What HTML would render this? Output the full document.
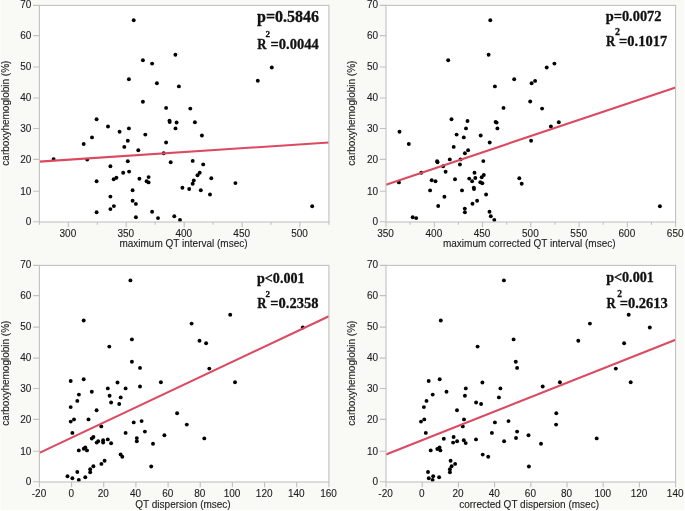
<!DOCTYPE html>
<html><head><meta charset="utf-8"><title>Scatter plots</title>
<style>
html,body{margin:0;padding:0;background:#f9f9f5;}
svg{display:block;will-change:transform;}
.s{font-family:"Liberation Sans",sans-serif;font-size:10px;fill:#1c1c1c;stroke:#1c1c1c;stroke-width:0.1px;}
.b{font-family:"Liberation Serif",serif;font-weight:bold;font-size:16px;fill:#111;stroke:#111;stroke-width:0.3px;}
.b2{font-family:"Liberation Serif",serif;font-weight:bold;font-size:10px;fill:#111;}
.f{stroke:#c1c1c1;stroke-width:1.1;fill:none;}
.d{fill:#000;}
.r{stroke:#db4a61;stroke-width:2.1;fill:none;}
</style></head><body>
<svg width="685" height="511" viewBox="0 0 685 511">
<rect x="0" y="0" width="685" height="511" fill="#f9f9f5"/>
<rect x="0" y="0" width="0.7" height="511" fill="#ffffff"/><rect x="684" y="0" width="1" height="511" fill="#ffffff"/><rect x="0" y="509.8" width="685" height="1.2" fill="#ffffff"/>
<g>
<rect x="39.4" y="5.4" width="289.5" height="216.6" fill="#ffffff"/>
<g class="d"><circle cx="133.7" cy="20.2" r="1.95"/><circle cx="175.4" cy="54.8" r="1.95"/><circle cx="142.9" cy="60.3" r="1.95"/><circle cx="152.1" cy="63.6" r="1.95"/><circle cx="128.9" cy="79.2" r="1.95"/><circle cx="156.9" cy="83.3" r="1.95"/><circle cx="178.9" cy="86.4" r="1.95"/><circle cx="142.9" cy="101.8" r="1.95"/><circle cx="166.1" cy="107.9" r="1.95"/><circle cx="96.6" cy="119.2" r="1.95"/><circle cx="108.0" cy="126.5" r="1.95"/><circle cx="128.9" cy="128.4" r="1.95"/><circle cx="119.6" cy="131.7" r="1.95"/><circle cx="145.3" cy="134.6" r="1.95"/><circle cx="92.0" cy="137.4" r="1.95"/><circle cx="127.8" cy="140.7" r="1.95"/><circle cx="83.7" cy="144.0" r="1.95"/><circle cx="124.3" cy="146.9" r="1.95"/><circle cx="138.3" cy="150.2" r="1.95"/><circle cx="166.1" cy="142.5" r="1.95"/><circle cx="169.5" cy="120.6" r="1.95"/><circle cx="169.7" cy="122.1" r="1.95"/><circle cx="176.6" cy="122.5" r="1.95"/><circle cx="175.5" cy="128.4" r="1.95"/><circle cx="163.7" cy="153.2" r="1.95"/><circle cx="170.7" cy="162.2" r="1.95"/><circle cx="53.6" cy="159.1" r="1.95"/><circle cx="87.2" cy="159.6" r="1.95"/><circle cx="127.8" cy="161.3" r="1.95"/><circle cx="110.4" cy="166.2" r="1.95"/><circle cx="129.1" cy="171.6" r="1.95"/><circle cx="123.2" cy="172.7" r="1.95"/><circle cx="148.6" cy="177.1" r="1.95"/><circle cx="139.4" cy="178.7" r="1.95"/><circle cx="116.4" cy="177.8" r="1.95"/><circle cx="113.7" cy="179.3" r="1.95"/><circle cx="96.6" cy="181.3" r="1.95"/><circle cx="146.6" cy="181.3" r="1.95"/><circle cx="148.6" cy="182.4" r="1.95"/><circle cx="182.4" cy="187.7" r="1.95"/><circle cx="132.6" cy="190.3" r="1.95"/><circle cx="110.4" cy="196.6" r="1.95"/><circle cx="132.6" cy="200.8" r="1.95"/><circle cx="135.9" cy="203.9" r="1.95"/><circle cx="113.9" cy="206.1" r="1.95"/><circle cx="110.4" cy="209.1" r="1.95"/><circle cx="96.6" cy="212.2" r="1.95"/><circle cx="135.9" cy="217.3" r="1.95"/><circle cx="152.1" cy="211.8" r="1.95"/><circle cx="158.0" cy="218.1" r="1.95"/><circle cx="174.3" cy="216.2" r="1.95"/><circle cx="180.0" cy="219.9" r="1.95"/><circle cx="271.8" cy="67.5" r="1.95"/><circle cx="257.8" cy="80.7" r="1.95"/><circle cx="190.3" cy="108.6" r="1.95"/><circle cx="194.9" cy="122.3" r="1.95"/><circle cx="201.9" cy="135.5" r="1.95"/><circle cx="192.7" cy="160.9" r="1.95"/><circle cx="203.2" cy="164.4" r="1.95"/><circle cx="199.7" cy="172.7" r="1.95"/><circle cx="197.5" cy="175.2" r="1.95"/><circle cx="211.3" cy="178.2" r="1.95"/><circle cx="193.8" cy="180.4" r="1.95"/><circle cx="192.7" cy="183.7" r="1.95"/><circle cx="235.4" cy="183.1" r="1.95"/><circle cx="189.2" cy="189.0" r="1.95"/><circle cx="200.8" cy="190.3" r="1.95"/><circle cx="210.0" cy="194.5" r="1.95"/><circle cx="312.2" cy="206.3" r="1.95"/></g>
<line class="r" x1="39.4" y1="161.6" x2="328.9" y2="142.5"/>
<rect class="f" x="39.4" y="5.4" width="289.5" height="216.6"/>
<text class="s" text-anchor="end" x="31.4" y="225">0</text><text class="s" text-anchor="end" x="31.4" y="195">10</text><text class="s" text-anchor="end" x="31.4" y="163">20</text><text class="s" text-anchor="end" x="31.4" y="132">30</text><text class="s" text-anchor="end" x="31.4" y="101">40</text><text class="s" text-anchor="end" x="31.4" y="70">50</text><text class="s" text-anchor="end" x="31.4" y="39">60</text><text class="s" text-anchor="end" x="31.4" y="8">70</text><text class="s" text-anchor="middle" x="67.9" y="237.0">300</text><text class="s" text-anchor="middle" x="125.8" y="237.0">350</text><text class="s" text-anchor="middle" x="183.8" y="237.0">400</text><text class="s" text-anchor="middle" x="241.7" y="237.0">450</text><text class="s" text-anchor="middle" x="299.6" y="237.0">500</text>
<path class="f" d="M33.2 221.8H39.4M33.2 191.3H39.4M33.2 159.4H39.4M33.2 128.5H39.4M33.2 98.0H39.4M33.2 67.0H39.4M33.2 35.6H39.4M33.2 5.4H39.4M68.3 222.0V227.3M126.2 222.0V227.3M184.2 222.0V227.3M242.1 222.0V227.3M299.9 222.0V227.3M39.4 222.0V224.8M97.3 222.0V224.8M155.2 222.0V224.8M213.1 222.0V224.8M271.0 222.0V224.8M328.9 222.0V224.8"/>
<text class="s" text-anchor="middle" x="183.5" y="247.0">maximum QT interval (msec)</text>
<text class="s" text-anchor="middle" transform="translate(8.8 113.1) rotate(-90)" x="0" y="0">carboxyhemoglobin (%)</text>
<text class="b" style="font-size:16.0px" x="257.0" y="21.9">p=0.5846</text>
<text class="b" style="font-size:14.5px" transform="translate(257.3 48.8) scale(0.88 1)">R</text><text class="b" style="font-size:9.0px" x="265.5" y="36.5">2</text><text class="b" style="font-size:14.5px" x="270.5" y="48.8">=0.0044</text>
</g>
<g>
<rect x="386.0" y="5.4" width="289.6" height="216.6" fill="#ffffff"/>
<g class="d"><circle cx="490.3" cy="20.2" r="1.95"/><circle cx="488.6" cy="54.8" r="1.95"/><circle cx="448.2" cy="60.3" r="1.95"/><circle cx="514.2" cy="79.2" r="1.95"/><circle cx="494.9" cy="86.4" r="1.95"/><circle cx="531.6" cy="83.3" r="1.95"/><circle cx="530.2" cy="101.5" r="1.95"/><circle cx="503.5" cy="107.9" r="1.95"/><circle cx="451.5" cy="119.2" r="1.95"/><circle cx="467.5" cy="121.0" r="1.95"/><circle cx="495.6" cy="122.0" r="1.95"/><circle cx="496.6" cy="122.6" r="1.95"/><circle cx="466.0" cy="128.4" r="1.95"/><circle cx="497.4" cy="128.4" r="1.95"/><circle cx="399.5" cy="131.7" r="1.95"/><circle cx="456.6" cy="134.6" r="1.95"/><circle cx="463.8" cy="137.4" r="1.95"/><circle cx="480.7" cy="135.5" r="1.95"/><circle cx="489.7" cy="142.5" r="1.95"/><circle cx="408.8" cy="144.0" r="1.95"/><circle cx="453.7" cy="146.9" r="1.95"/><circle cx="468.1" cy="150.3" r="1.95"/><circle cx="464.9" cy="153.2" r="1.95"/><circle cx="531.1" cy="140.7" r="1.95"/><circle cx="449.8" cy="159.4" r="1.95"/><circle cx="460.5" cy="159.4" r="1.95"/><circle cx="437.1" cy="161.3" r="1.95"/><circle cx="437.5" cy="162.2" r="1.95"/><circle cx="483.3" cy="161.1" r="1.95"/><circle cx="459.9" cy="164.5" r="1.95"/><circle cx="443.1" cy="166.2" r="1.95"/><circle cx="445.6" cy="171.7" r="1.95"/><circle cx="421.3" cy="172.7" r="1.95"/><circle cx="474.5" cy="172.7" r="1.95"/><circle cx="483.8" cy="175.0" r="1.95"/><circle cx="481.7" cy="177.2" r="1.95"/><circle cx="475.3" cy="178.0" r="1.95"/><circle cx="469.2" cy="178.6" r="1.95"/><circle cx="455.0" cy="179.2" r="1.95"/><circle cx="431.7" cy="180.3" r="1.95"/><circle cx="435.5" cy="181.2" r="1.95"/><circle cx="472.1" cy="181.3" r="1.95"/><circle cx="480.3" cy="182.3" r="1.95"/><circle cx="482.3" cy="183.2" r="1.95"/><circle cx="398.9" cy="182.4" r="1.95"/><circle cx="519.3" cy="178.2" r="1.95"/><circle cx="521.7" cy="183.7" r="1.95"/><circle cx="473.8" cy="187.6" r="1.95"/><circle cx="474.0" cy="189.1" r="1.95"/><circle cx="462.0" cy="190.4" r="1.95"/><circle cx="430.1" cy="190.4" r="1.95"/><circle cx="486.1" cy="194.5" r="1.95"/><circle cx="444.4" cy="196.7" r="1.95"/><circle cx="477.1" cy="200.7" r="1.95"/><circle cx="472.5" cy="203.8" r="1.95"/><circle cx="438.2" cy="206.0" r="1.95"/><circle cx="464.8" cy="208.6" r="1.95"/><circle cx="464.9" cy="212.2" r="1.95"/><circle cx="489.5" cy="211.8" r="1.95"/><circle cx="490.8" cy="216.2" r="1.95"/><circle cx="494.3" cy="219.9" r="1.95"/><circle cx="412.7" cy="217.3" r="1.95"/><circle cx="416.2" cy="218.1" r="1.95"/><circle cx="554.4" cy="63.6" r="1.95"/><circle cx="546.7" cy="67.5" r="1.95"/><circle cx="535.1" cy="80.9" r="1.95"/><circle cx="542.1" cy="108.6" r="1.95"/><circle cx="558.8" cy="122.3" r="1.95"/><circle cx="550.9" cy="126.5" r="1.95"/><circle cx="659.9" cy="206.3" r="1.95"/></g>
<line class="r" x1="386.0" y1="184.7" x2="675.6" y2="87.4"/>
<rect class="f" x="386.0" y="5.4" width="289.6" height="216.6"/>
<text class="s" text-anchor="end" x="378.0" y="225">0</text><text class="s" text-anchor="end" x="378.0" y="195">10</text><text class="s" text-anchor="end" x="378.0" y="163">20</text><text class="s" text-anchor="end" x="378.0" y="132">30</text><text class="s" text-anchor="end" x="378.0" y="101">40</text><text class="s" text-anchor="end" x="378.0" y="70">50</text><text class="s" text-anchor="end" x="378.0" y="39">60</text><text class="s" text-anchor="end" x="378.0" y="8">70</text><text class="s" text-anchor="middle" x="385.6" y="237.0">350</text><text class="s" text-anchor="middle" x="433.9" y="237.0">400</text><text class="s" text-anchor="middle" x="482.1" y="237.0">450</text><text class="s" text-anchor="middle" x="530.4" y="237.0">500</text><text class="s" text-anchor="middle" x="578.7" y="237.0">550</text><text class="s" text-anchor="middle" x="626.9" y="237.0">600</text><text class="s" text-anchor="middle" x="675.2" y="237.0">650</text>
<path class="f" d="M379.8 221.8H386.0M379.8 191.3H386.0M379.8 159.4H386.0M379.8 128.5H386.0M379.8 98.0H386.0M379.8 67.0H386.0M379.8 35.6H386.0M379.8 5.4H386.0M386.0 222.0V227.3M434.3 222.0V227.3M482.5 222.0V227.3M530.8 222.0V227.3M579.1 222.0V227.3M627.3 222.0V227.3M675.6 222.0V227.3M410.1 222.0V224.8M458.4 222.0V224.8M506.7 222.0V224.8M554.9 222.0V224.8M603.2 222.0V224.8M651.5 222.0V224.8"/>
<text class="s" text-anchor="middle" x="529.3" y="247.0">maximum corrected QT interval (msec)</text>
<text class="s" text-anchor="middle" transform="translate(354.9 113.1) rotate(-90)" x="0" y="0">carboxyhemoglobin (%)</text>
<text class="b" style="font-size:14.4px" x="605.7" y="20.5">p=0.0072</text>
<text class="b" style="font-size:14.5px" transform="translate(606.0 45.9) scale(0.88 1)">R</text><text class="b" style="font-size:10.0px" x="615.0" y="35.2">2</text><text class="b" style="font-size:14.5px" x="619.1" y="45.9">=0.1017</text>
</g>
<g>
<rect x="39.4" y="265.4" width="289.5" height="216.6" fill="#ffffff"/>
<g class="d"><circle cx="130.4" cy="280.4" r="1.95"/><circle cx="83.7" cy="320.5" r="1.95"/><circle cx="131.9" cy="339.4" r="1.95"/><circle cx="109.3" cy="346.6" r="1.95"/><circle cx="131.9" cy="361.8" r="1.95"/><circle cx="140.0" cy="367.9" r="1.95"/><circle cx="83.7" cy="379.2" r="1.95"/><circle cx="70.7" cy="381.0" r="1.95"/><circle cx="117.5" cy="382.5" r="1.95"/><circle cx="160.9" cy="382.3" r="1.95"/><circle cx="140.0" cy="386.5" r="1.95"/><circle cx="107.8" cy="388.4" r="1.95"/><circle cx="125.6" cy="388.4" r="1.95"/><circle cx="91.8" cy="391.7" r="1.95"/><circle cx="78.9" cy="394.6" r="1.95"/><circle cx="109.6" cy="395.7" r="1.95"/><circle cx="120.7" cy="397.4" r="1.95"/><circle cx="77.3" cy="400.9" r="1.95"/><circle cx="111.1" cy="402.5" r="1.95"/><circle cx="119.2" cy="404.0" r="1.95"/><circle cx="70.7" cy="407.1" r="1.95"/><circle cx="96.6" cy="410.2" r="1.95"/><circle cx="177.1" cy="413.2" r="1.95"/><circle cx="74.0" cy="419.4" r="1.95"/><circle cx="70.7" cy="421.6" r="1.95"/><circle cx="88.5" cy="419.4" r="1.95"/><circle cx="133.7" cy="422.4" r="1.95"/><circle cx="141.6" cy="421.1" r="1.95"/><circle cx="101.3" cy="426.4" r="1.95"/><circle cx="72.4" cy="432.9" r="1.95"/><circle cx="125.6" cy="432.9" r="1.95"/><circle cx="144.9" cy="431.6" r="1.95"/><circle cx="164.4" cy="435.2" r="1.95"/><circle cx="93.4" cy="437.0" r="1.95"/><circle cx="91.8" cy="438.5" r="1.95"/><circle cx="107.8" cy="439.4" r="1.95"/><circle cx="136.8" cy="438.1" r="1.95"/><circle cx="136.8" cy="441.2" r="1.95"/><circle cx="98.2" cy="441.2" r="1.95"/><circle cx="96.7" cy="442.6" r="1.95"/><circle cx="103.1" cy="440.3" r="1.95"/><circle cx="103.1" cy="442.6" r="1.95"/><circle cx="111.1" cy="443.2" r="1.95"/><circle cx="153.0" cy="443.7" r="1.95"/><circle cx="85.3" cy="447.4" r="1.95"/><circle cx="83.8" cy="448.8" r="1.95"/><circle cx="87.0" cy="450.4" r="1.95"/><circle cx="78.8" cy="450.4" r="1.95"/><circle cx="120.6" cy="454.4" r="1.95"/><circle cx="122.3" cy="456.7" r="1.95"/><circle cx="104.6" cy="460.7" r="1.95"/><circle cx="101.4" cy="463.9" r="1.95"/><circle cx="93.4" cy="466.2" r="1.95"/><circle cx="90.2" cy="469.2" r="1.95"/><circle cx="90.2" cy="472.3" r="1.95"/><circle cx="77.3" cy="472.0" r="1.95"/><circle cx="151.2" cy="466.5" r="1.95"/><circle cx="67.5" cy="476.3" r="1.95"/><circle cx="72.4" cy="478.2" r="1.95"/><circle cx="85.3" cy="477.2" r="1.95"/><circle cx="78.8" cy="479.9" r="1.95"/><circle cx="230.2" cy="314.8" r="1.95"/><circle cx="191.6" cy="323.6" r="1.95"/><circle cx="199.5" cy="340.7" r="1.95"/><circle cx="206.1" cy="343.3" r="1.95"/><circle cx="302.8" cy="327.5" r="1.95"/><circle cx="209.3" cy="368.6" r="1.95"/><circle cx="235.0" cy="382.3" r="1.95"/><circle cx="186.8" cy="424.6" r="1.95"/><circle cx="204.3" cy="438.4" r="1.95"/></g>
<line class="r" x1="39.4" y1="452.9" x2="328.9" y2="316.2"/>
<rect class="f" x="39.4" y="265.4" width="289.5" height="216.6"/>
<text class="s" text-anchor="end" x="31.4" y="485">0</text><text class="s" text-anchor="end" x="31.4" y="455">10</text><text class="s" text-anchor="end" x="31.4" y="423">20</text><text class="s" text-anchor="end" x="31.4" y="392">30</text><text class="s" text-anchor="end" x="31.4" y="361">40</text><text class="s" text-anchor="end" x="31.4" y="330">50</text><text class="s" text-anchor="end" x="31.4" y="299">60</text><text class="s" text-anchor="end" x="31.4" y="268">70</text><text class="s" text-anchor="middle" x="39.0" y="497.0">-20</text><text class="s" text-anchor="middle" x="71.2" y="497.0">0</text><text class="s" text-anchor="middle" x="103.3" y="497.0">20</text><text class="s" text-anchor="middle" x="135.5" y="497.0">40</text><text class="s" text-anchor="middle" x="167.7" y="497.0">60</text><text class="s" text-anchor="middle" x="199.8" y="497.0">80</text><text class="s" text-anchor="middle" x="232.0" y="497.0">100</text><text class="s" text-anchor="middle" x="264.2" y="497.0">120</text><text class="s" text-anchor="middle" x="296.3" y="497.0">140</text><text class="s" text-anchor="middle" x="328.5" y="497.0">160</text>
<path class="f" d="M33.2 481.8H39.4M33.2 451.3H39.4M33.2 419.4H39.4M33.2 388.5H39.4M33.2 358.1H39.4M33.2 327.1H39.4M33.2 295.6H39.4M33.2 265.4H39.4M39.4 482.0V487.3M71.6 482.0V487.3M103.7 482.0V487.3M135.9 482.0V487.3M168.1 482.0V487.3M200.2 482.0V487.3M232.4 482.0V487.3M264.6 482.0V487.3M296.7 482.0V487.3M328.9 482.0V487.3"/>
<text class="s" text-anchor="middle" x="183.0" y="508.0">QT dispersion (msec)</text>
<text class="s" text-anchor="middle" transform="translate(8.8 373.1) rotate(-90)" x="0" y="0">carboxyhemoglobin (%)</text>
<text class="b" style="font-size:14.1px" x="257.0" y="282.5">p&lt;0.001</text>
<text class="b" style="font-size:14.5px" transform="translate(257.3 308.0) scale(0.88 1)">R</text><text class="b" style="font-size:9.0px" x="265.5" y="296.5">2</text><text class="b" style="font-size:14.5px" x="270.3" y="308.0">=0.2358</text>
</g>
<g>
<rect x="386.0" y="265.4" width="289.6" height="216.6" fill="#ffffff"/>
<g class="d"><circle cx="503.9" cy="280.4" r="1.95"/><circle cx="440.8" cy="320.5" r="1.95"/><circle cx="513.6" cy="339.4" r="1.95"/><circle cx="477.6" cy="346.6" r="1.95"/><circle cx="515.8" cy="361.8" r="1.95"/><circle cx="517.1" cy="367.9" r="1.95"/><circle cx="439.7" cy="379.2" r="1.95"/><circle cx="428.7" cy="381.0" r="1.95"/><circle cx="482.4" cy="382.5" r="1.95"/><circle cx="465.8" cy="388.4" r="1.95"/><circle cx="500.4" cy="388.4" r="1.95"/><circle cx="446.5" cy="391.7" r="1.95"/><circle cx="432.7" cy="394.6" r="1.95"/><circle cx="464.9" cy="395.7" r="1.95"/><circle cx="498.9" cy="397.4" r="1.95"/><circle cx="426.5" cy="400.9" r="1.95"/><circle cx="476.1" cy="402.5" r="1.95"/><circle cx="481.1" cy="404.0" r="1.95"/><circle cx="423.9" cy="407.1" r="1.95"/><circle cx="457.0" cy="410.2" r="1.95"/><circle cx="424.3" cy="419.4" r="1.95"/><circle cx="421.0" cy="421.6" r="1.95"/><circle cx="464.0" cy="419.4" r="1.95"/><circle cx="494.9" cy="422.4" r="1.95"/><circle cx="508.5" cy="421.1" r="1.95"/><circle cx="462.8" cy="426.4" r="1.95"/><circle cx="425.8" cy="432.9" r="1.95"/><circle cx="491.9" cy="432.9" r="1.95"/><circle cx="517.1" cy="431.6" r="1.95"/><circle cx="528.5" cy="435.2" r="1.95"/><circle cx="453.6" cy="437.0" r="1.95"/><circle cx="443.8" cy="438.8" r="1.95"/><circle cx="516.0" cy="438.0" r="1.95"/><circle cx="476.0" cy="439.4" r="1.95"/><circle cx="463.8" cy="440.3" r="1.95"/><circle cx="457.1" cy="441.2" r="1.95"/><circle cx="504.1" cy="441.3" r="1.95"/><circle cx="453.1" cy="442.6" r="1.95"/><circle cx="465.7" cy="443.1" r="1.95"/><circle cx="439.5" cy="447.5" r="1.95"/><circle cx="437.3" cy="449.0" r="1.95"/><circle cx="440.4" cy="450.4" r="1.95"/><circle cx="430.7" cy="450.4" r="1.95"/><circle cx="482.7" cy="454.6" r="1.95"/><circle cx="488.2" cy="456.7" r="1.95"/><circle cx="450.6" cy="460.7" r="1.95"/><circle cx="455.1" cy="463.9" r="1.95"/><circle cx="451.6" cy="466.2" r="1.95"/><circle cx="449.9" cy="469.3" r="1.95"/><circle cx="449.9" cy="472.3" r="1.95"/><circle cx="428.0" cy="472.0" r="1.95"/><circle cx="528.9" cy="466.5" r="1.95"/><circle cx="433.2" cy="476.3" r="1.95"/><circle cx="428.8" cy="478.2" r="1.95"/><circle cx="439.1" cy="477.2" r="1.95"/><circle cx="432.6" cy="479.9" r="1.95"/><circle cx="628.7" cy="314.8" r="1.95"/><circle cx="589.9" cy="323.6" r="1.95"/><circle cx="649.8" cy="327.5" r="1.95"/><circle cx="578.3" cy="340.7" r="1.95"/><circle cx="624.1" cy="343.3" r="1.95"/><circle cx="615.8" cy="368.6" r="1.95"/><circle cx="559.9" cy="382.3" r="1.95"/><circle cx="542.7" cy="386.5" r="1.95"/><circle cx="630.7" cy="382.3" r="1.95"/><circle cx="556.3" cy="413.2" r="1.95"/><circle cx="556.1" cy="424.6" r="1.95"/><circle cx="541.0" cy="443.7" r="1.95"/><circle cx="596.7" cy="438.4" r="1.95"/></g>
<line class="r" x1="386.0" y1="454.6" x2="675.6" y2="339.8"/>
<rect class="f" x="386.0" y="265.4" width="289.6" height="216.6"/>
<text class="s" text-anchor="end" x="378.0" y="485">0</text><text class="s" text-anchor="end" x="378.0" y="455">10</text><text class="s" text-anchor="end" x="378.0" y="423">20</text><text class="s" text-anchor="end" x="378.0" y="392">30</text><text class="s" text-anchor="end" x="378.0" y="361">40</text><text class="s" text-anchor="end" x="378.0" y="330">50</text><text class="s" text-anchor="end" x="378.0" y="299">60</text><text class="s" text-anchor="end" x="378.0" y="268">70</text><text class="s" text-anchor="middle" x="385.6" y="497.0">-20</text><text class="s" text-anchor="middle" x="421.8" y="497.0">0</text><text class="s" text-anchor="middle" x="458.0" y="497.0">20</text><text class="s" text-anchor="middle" x="494.2" y="497.0">40</text><text class="s" text-anchor="middle" x="530.4" y="497.0">60</text><text class="s" text-anchor="middle" x="566.6" y="497.0">80</text><text class="s" text-anchor="middle" x="602.8" y="497.0">100</text><text class="s" text-anchor="middle" x="639.0" y="497.0">120</text><text class="s" text-anchor="middle" x="675.2" y="497.0">140</text>
<path class="f" d="M379.8 481.8H386.0M379.8 451.3H386.0M379.8 419.4H386.0M379.8 388.5H386.0M379.8 358.1H386.0M379.8 327.1H386.0M379.8 295.6H386.0M379.8 265.4H386.0M386.0 482.0V487.3M422.2 482.0V487.3M458.4 482.0V487.3M494.6 482.0V487.3M530.8 482.0V487.3M567.0 482.0V487.3M603.2 482.0V487.3M639.4 482.0V487.3M675.6 482.0V487.3"/>
<text class="s" text-anchor="middle" x="529.1" y="508.0">corrected QT dispersion (msec)</text>
<text class="s" text-anchor="middle" transform="translate(354.9 373.1) rotate(-90)" x="0" y="0">carboxyhemoglobin (%)</text>
<text class="b" style="font-size:14.1px" x="606.2" y="282.3">p&lt;0.001</text>
<text class="b" style="font-size:14.5px" transform="translate(606.5 307.6) scale(0.88 1)">R</text><text class="b" style="font-size:9.5px" x="617.3" y="296.8">2</text><text class="b" style="font-size:14.5px" x="619.7" y="307.6">=0.2613</text>
</g>
</svg>
</body></html>
